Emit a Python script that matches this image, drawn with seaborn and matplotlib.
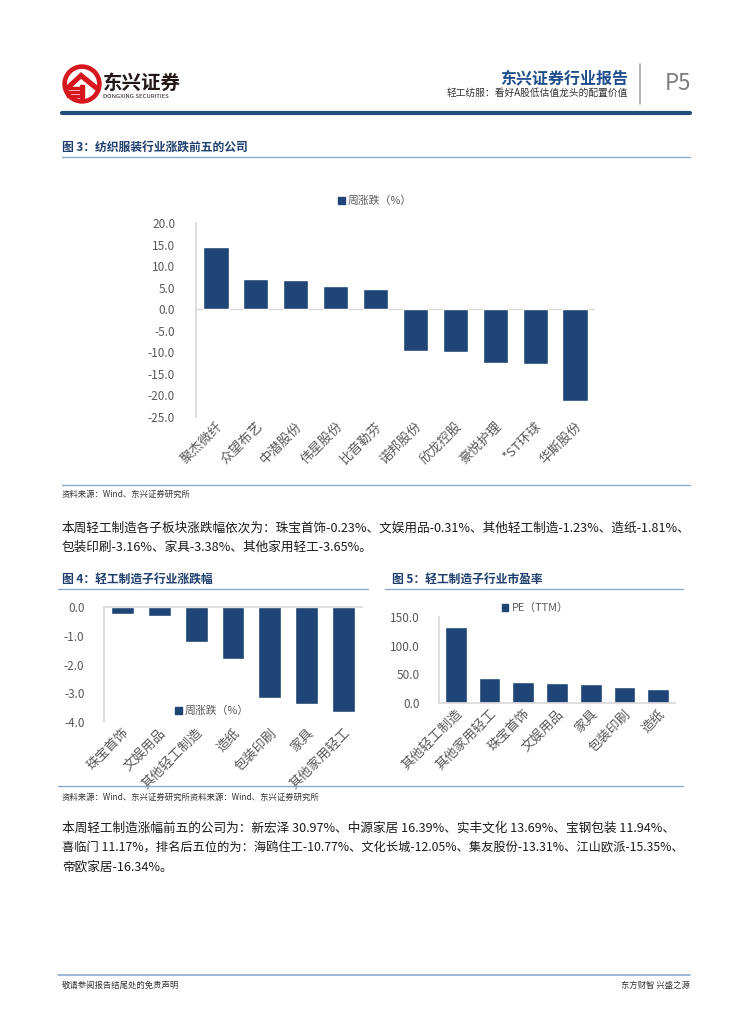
import matplotlib
matplotlib.use("Agg")
import matplotlib.pyplot as plt
import seaborn as sns
import pandas as pd
from matplotlib.patches import Patch, Circle, Rectangle, Polygon
from matplotlib.lines import Line2D

sns.set_theme(style="white")
plt.rcParams['font.family'] = ['Noto Sans CJK SC', 'DejaVu Sans']
plt.rcParams['axes.unicode_minus'] = False

# ---------------- data ----------------
c3_names = ["聚杰微纤", "众望布艺", "中潜股份", "伟星股份", "比音勒芬",
            "诺邦股份", "欣龙控股", "豪悦护理", "*ST环球", "华斯股份"]
c3_vals = [14.4, 6.9, 6.7, 5.4, 4.7, -9.7, -9.9, -12.4, -12.6, -21.4]
c3_ticks = [20, 15, 10, 5, 0, -5, -10, -15, -20, -25]

c4_names = ["珠宝首饰", "文娱用品", "其他轻工制造", "造纸", "包装印刷", "家具", "其他家用轻工"]
c4_vals = [-0.23, -0.31, -1.23, -1.81, -3.16, -3.38, -3.65]
c4_ticks = [0, -1, -2, -3, -4]

c5_names = ["其他轻工制造", "其他家用轻工", "珠宝首饰", "文娱用品", "家具", "包装印刷", "造纸"]
c5_vals = [133.0, 43.5, 37.5, 34.5, 33.0, 28.0, 24.5]
c5_ticks = [0, 50, 100, 150]

BAR = "#1F4576"
NAVY = "#1F3F6E"
GRAY = "#595959"
LINE = "#D9D9D9"
RULE = "#8EAACB"

W, H = 754, 1024
fig = plt.figure(figsize=(W / 100, H / 100), dpi=100)


def fx(x):
    return x / W


def fy(y):
    return 1 - y / H


def axes_px(l, t, r, b):
    return fig.add_axes([fx(l), fy(b), (r - l) / W, (b - t) / H])


def hline(x0, x1, y, color, lw):
    fig.add_artist(Line2D([fx(x0), fx(x1)], [fy(y), fy(y)], color=color, lw=lw,
                          transform=fig.transFigure))


def text(x, y, s, **kw):
    fig.text(fx(x), fy(y), s, **kw)


# ---------------- header ----------------
ax_logo = axes_px(62, 64, 102, 104)
ax_logo.set_xlim(-1, 1)
ax_logo.set_ylim(-1, 1)
ax_logo.set_aspect('equal')
ax_logo.axis('off')
ax_logo.add_patch(Circle((0, 0), 0.95, color="#D7161E"))
ax_logo.add_patch(Circle((0, 0), 0.72, color="white"))
ax_logo.add_patch(Polygon([[-0.75, -0.1], [-0.05, 0.55], [0.75, -0.1], [0.75, -0.35],
                           [-0.05, 0.3], [-0.75, -0.35]], color="#D7161E"))
for yy in (-0.2, -0.4, -0.6):
    ax_logo.add_patch(Rectangle((-0.75, yy - 0.06), 0.6, 0.1, color="#D7161E"))
ax_logo.add_patch(Rectangle((-0.1, -0.75), 0.2, 0.7, color="#D7161E"))

text(103, 83, "东兴证券", fontsize=14, fontweight='bold', color="#231815", va='center', ha='left')
text(103, 97, "DONGXING SECURITIES", fontsize=4.3, color="#231815", va='center', ha='left')

text(628, 78, "东兴证券行业报告", fontsize=11.5, fontweight='bold', color="#1F4E8C", va='center', ha='right')
text(628, 93, "轻工纺服：看好A股低估值龙头的配置价值", fontsize=7, color="#333333", va='center', ha='right')
fig.add_artist(Line2D([fx(640), fx(640)], [fy(64), fy(104)], color="#A6A6A6", lw=1.2,
                      transform=fig.transFigure))
text(665, 84, "P5", fontsize=16, color="#7F7F7F", va='center', ha='left')
hline(62, 690, 113, "#1F4E79", 3.0)

# ---------------- chart 3 ----------------
text(62, 147, "图 3：纺织服装行业涨跌前五的公司", fontsize=8.5, fontweight='bold', color=NAVY, va='center')
hline(62, 690, 157, RULE, 1.0)

df3 = pd.DataFrame({"name": c3_names, "val": c3_vals})
ax3 = axes_px(196, 223, 595, 417)
sns.barplot(data=df3, x="name", y="val", color=BAR, width=0.63, ax=ax3, saturation=1)
ax3.set_ylim(-25, 20)
ax3.set_xlim(-0.5, len(c3_names) - 0.5)
ax3.set_yticks(c3_ticks)
ax3.set_yticklabels([f"{t:.1f}" for t in c3_ticks], fontsize=8.5, color=GRAY)
ax3.set_xlabel("")
ax3.set_ylabel("")
ax3.tick_params(axis='x', length=0, pad=2)
ax3.tick_params(axis='y', length=3, color=LINE, pad=12)
plt.setp(ax3.get_xticklabels(), rotation=45, ha='right', rotation_mode='anchor', fontsize=9.5, color=GRAY)
for s in ("top", "right", "bottom"):
    ax3.spines[s].set_visible(False)
ax3.spines['left'].set_color(LINE)
ax3.axhline(0, color=LINE, lw=1.0, zorder=0.5)
ax3.legend(handles=[Patch(color=BAR, label="周涨跌（%）")], loc='center',
           bbox_to_anchor=(fx(375), fy(201)), bbox_transform=fig.transFigure,
           frameon=False, fontsize=7.8, handlelength=0.6, handleheight=0.6, handletextpad=0.3,
           labelcolor=GRAY)

hline(62, 690, 485, RULE, 1.0)
text(62, 494, "资料来源：Wind、东兴证券研究所", fontsize=6, color="#333333", style='italic', va='center')

text(62, 528, "本周轻工制造各子板块涨跌幅依次为：珠宝首饰-0.23%、文娱用品-0.31%、其他轻工制造-1.23%、造纸-1.81%、",
     fontsize=9.1, color="#1A1A1A", va='center')
text(62, 547, "包装印刷-3.16%、家具-3.38%、其他家用轻工-3.65%。", fontsize=9.1, color="#1A1A1A", va='center')

# ---------------- chart 4 ----------------
text(62, 579, "图 4：轻工制造子行业涨跌幅", fontsize=8.5, fontweight='bold', color=NAVY, va='center')
hline(58, 368, 589, RULE, 1.0)

df4 = pd.DataFrame({"name": c4_names, "val": c4_vals})
ax4 = axes_px(104, 607, 362, 722)
sns.barplot(data=df4, x="name", y="val", color=BAR, width=0.62, ax=ax4, saturation=1)
ax4.set_ylim(-4, 0)
ax4.set_xlim(-0.5, len(c4_names) - 0.5)
ax4.set_yticks(c4_ticks)
ax4.set_yticklabels([f"{t:.1f}" for t in c4_ticks], fontsize=8.5, color=GRAY)
ax4.set_xlabel("")
ax4.set_ylabel("")
ax4.tick_params(axis='x', length=0, pad=3)
ax4.tick_params(axis='y', length=3, color=LINE, pad=11)
plt.setp(ax4.get_xticklabels(), rotation=45, ha='right', rotation_mode='anchor', fontsize=9.5, color=GRAY)
for s in ("right", "bottom"):
    ax4.spines[s].set_visible(False)
ax4.spines['left'].set_color(LINE)
ax4.spines['top'].set_color(LINE)
ax4.legend(handles=[Patch(color=BAR, label="周涨跌（%）")], loc='center',
           bbox_to_anchor=(fx(212), fy(711)), bbox_transform=fig.transFigure,
           frameon=False, fontsize=7.8, handlelength=0.6, handleheight=0.6, handletextpad=0.3,
           labelcolor=GRAY)

# ---------------- chart 5 ----------------
text(392, 579, "图 5：轻工制造子行业市盈率", fontsize=8.5, fontweight='bold', color=NAVY, va='center')
hline(385, 683, 589, RULE, 1.0)

df5 = pd.DataFrame({"name": c5_names, "val": c5_vals})
ax5 = axes_px(439, 617, 675, 703)
sns.barplot(data=df5, x="name", y="val", color=BAR, width=0.64, ax=ax5, saturation=1)
ax5.set_ylim(0, 150)
ax5.set_xlim(-0.5, len(c5_names) - 0.5)
ax5.set_yticks(c5_ticks)
ax5.set_yticklabels([f"{t:.1f}" for t in c5_ticks], fontsize=8.5, color=GRAY)
ax5.set_xlabel("")
ax5.set_ylabel("")
ax5.tick_params(axis='x', length=0, pad=3)
ax5.tick_params(axis='y', length=3, color=LINE, pad=11)
plt.setp(ax5.get_xticklabels(), rotation=45, ha='right', rotation_mode='anchor', fontsize=9.5, color=GRAY)
for s in ("right", "top"):
    ax5.spines[s].set_visible(False)
ax5.spines['left'].set_color(LINE)
ax5.spines['bottom'].set_color(LINE)
ax5.legend(handles=[Patch(color=BAR, label="PE（TTM）")], loc='center',
           bbox_to_anchor=(fx(535), fy(608)), bbox_transform=fig.transFigure,
           frameon=False, fontsize=7.8, handlelength=0.6, handleheight=0.6, handletextpad=0.3,
           labelcolor=GRAY)

hline(58, 683, 786, RULE, 1.0)
text(62, 797, "资料来源：Wind、东兴证券研究所资料来源：Wind、东兴证券研究所", fontsize=6, color="#333333",
     style='italic', va='center')

text(62, 828, "本周轻工制造涨幅前五的公司为：新宏泽 30.97%、中源家居 16.39%、实丰文化 13.69%、宝钢包装 11.94%、",
     fontsize=9.1, color="#1A1A1A", va='center')
text(62, 848, "喜临门 11.17%，排名后五位的为：海鸥住工-10.77%、文化长城-12.05%、集友股份-13.31%、江山欧派-15.35%、",
     fontsize=8.8, color="#1A1A1A", va='center')
text(62, 867, "帝欧家居-16.34%。", fontsize=9.1, color="#1A1A1A", va='center')

# ---------------- footer ----------------
hline(58, 690, 975, RULE, 1.2)
text(62, 985, "敬请参阅报告结尾处的免责声明", fontsize=6, color="#333333", va='center')
text(690, 985, "东方财智 兴盛之源", fontsize=6, color="#333333", va='center', ha='right')

fig.savefig("out.png", dpi=100)
